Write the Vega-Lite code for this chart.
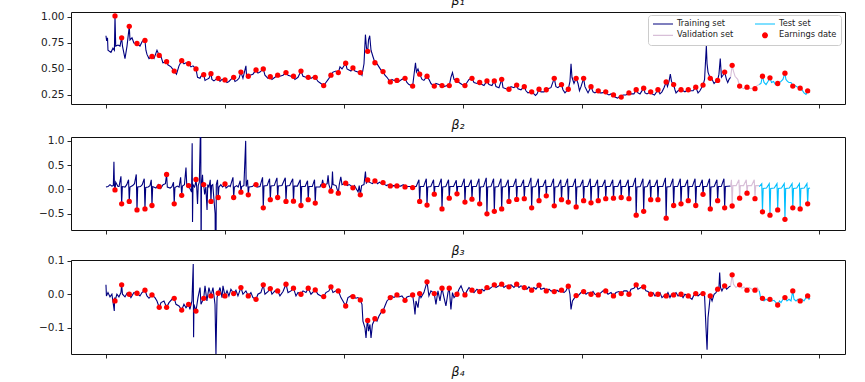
{
"$schema": "https://vega.github.io/schema/vega-lite/v6.json",
"padding": {"left": 20, "top": -6, "right": 10, "bottom": 3},
"config": {
 "view": {"stroke": "#111111", "strokeWidth": 1},
 "axis": {"domain": false, "grid": false, "tickColor": "#111111", "tickWidth": 0.9, "tickSize": 4, "labelFont": "DejaVu Sans", "labelFontSize": 10.5, "labelColor": "#222222", "labelPadding": 3, "labelOverlap": false},
 "axisY": {"minExtent": 50, "maxExtent": 50},
 "title": {"font": "DejaVu Sans", "fontSize": 12.5, "fontStyle": "italic", "fontWeight": "normal", "color": "#111111", "offset": 4}
},
"datasets": {
"earn": [
{"d":76,"b1":1.01,"b2":-0.01,"b3":-0.02},{"d":132,"b1":0.80,"b2":-0.295,"b3":0.028},{"d":196,"b1":0.91,"b2":-0.246,"b3":0.0},{"d":261,"b1":0.745,"b2":-0.42,"b3":0.003},{"d":328,"b1":0.775,"b2":-0.40,"b3":0.012},{"d":387,"b1":0.62,"b2":-0.33,"b3":-0.002},{"d":448,"b1":0.63,"b2":0.06,"b3":-0.039},{"d":510,"b1":0.57,"b2":0.31,"b3":-0.039},{"d":574,"b1":0.48,"b2":-0.295,"b3":-0.012},{"d":637,"b1":0.58,"b2":-0.12,"b3":-0.047},
{"d":695,"b1":0.55,"b2":0.08,"b3":-0.03},{"d":757,"b1":0.50,"b2":0.205,"b3":-0.05},{"d":822,"b1":0.445,"b2":0.10,"b3":-0.012},{"d":883,"b1":0.455,"b2":-0.246,"b3":-0.005},{"d":944,"b1":0.41,"b2":-0.165,"b3":0.003},{"d":1001,"b1":0.395,"b2":0.115,"b3":-0.005},{"d":1074,"b1":0.42,"b2":-0.165,"b3":0.002},{"d":1135,"b1":0.47,"b2":-0.055,"b3":0.02},{"d":1197,"b1":0.43,"b2":-0.11,"b3":-0.005},{"d":1262,"b1":0.49,"b2":0.10,"b3":-0.015},
{"d":1323,"b1":0.50,"b2":-0.377,"b3":0.028},{"d":1382,"b1":0.425,"b2":-0.21,"b3":0.017},{"d":1444,"b1":0.44,"b2":-0.165,"b3":0.01},{"d":1514,"b1":0.465,"b2":-0.246,"b3":0.03},{"d":1577,"b1":0.43,"b2":-0.24,"b3":0.018},{"d":1640,"b1":0.48,"b2":-0.33,"b3":0.0},{"d":1701,"b1":0.42,"b2":-0.21,"b3":0.018},{"d":1760,"b1":0.42,"b2":-0.28,"b3":0.013},{"d":1831,"b1":0.34,"b2":0.08,"b3":-0.007},{"d":1892,"b1":0.44,"b2":-0.035,"b3":0.022},
{"d":1954,"b1":0.465,"b2":-0.076,"b3":0.01},{"d":2016,"b1":0.555,"b2":0.13,"b3":-0.035},{"d":2077,"b1":0.51,"b2":0.033,"b3":-0.007},{"d":2139,"b1":0.465,"b2":-0.11,"b3":-0.017},{"d":2201,"b1":0.67,"b2":0.197,"b3":-0.078},{"d":2262,"b1":0.56,"b2":0.176,"b3":-0.073},{"d":2330,"b1":0.475,"b2":0.143,"b3":-0.05},{"d":2391,"b1":0.375,"b2":0.074,"b3":-0.01},{"d":2447,"b1":0.39,"b2":0.074,"b3":-0.002},{"d":2515,"b1":0.41,"b2":0.053,"b3":-0.018},
{"d":2579,"b1":0.335,"b2":0.04,"b3":-0.002},{"d":2638,"b1":0.45,"b2":-0.246,"b3":0.002},{"d":2700,"b1":0.43,"b2":-0.32,"b3":0.037},{"d":2761,"b1":0.335,"b2":-0.096,"b3":0.002},{"d":2826,"b1":0.34,"b2":-0.40,"b3":0.018},{"d":2887,"b1":0.34,"b2":-0.178,"b3":0.018},{"d":2952,"b1":0.39,"b2":-0.09,"b3":0.0},{"d":3019,"b1":0.34,"b2":-0.26,"b3":-0.002},{"d":3078,"b1":0.41,"b2":-0.2,"b3":0.012},{"d":3143,"b1":0.37,"b2":-0.295,"b3":0.008},
{"d":3204,"b1":0.385,"b2":-0.50,"b3":0.02},{"d":3266,"b1":0.385,"b2":-0.45,"b3":0.028},{"d":3328,"b1":0.40,"b2":-0.40,"b3":0.03},{"d":3389,"b1":0.305,"b2":-0.246,"b3":0.022},{"d":3454,"b1":0.345,"b2":-0.205,"b3":0.03},{"d":3518,"b1":0.33,"b2":-0.19,"b3":0.02},{"d":3580,"b1":0.28,"b2":-0.377,"b3":0.012},{"d":3642,"b1":0.305,"b2":-0.23,"b3":0.027},{"d":3703,"b1":0.30,"b2":-0.13,"b3":0.01},{"d":3770,"b1":0.41,"b2":-0.336,"b3":0.008},
{"d":3831,"b1":0.35,"b2":-0.21,"b3":0.012},{"d":3888,"b1":0.305,"b2":-0.26,"b3":0.024},{"d":3954,"b1":0.41,"b2":-0.36,"b3":-0.004},{"d":4017,"b1":0.41,"b2":-0.23,"b3":0.008},{"d":4079,"b1":0.33,"b2":-0.275,"b3":0.0},{"d":4140,"b1":0.29,"b2":-0.23,"b3":-0.002},{"d":4203,"b1":0.28,"b2":-0.19,"b3":0.01},{"d":4268,"b1":0.25,"b2":-0.18,"b3":-0.005},{"d":4333,"b1":0.23,"b2":-0.165,"b3":0.002},{"d":4398,"b1":0.27,"b2":-0.19,"b3":0.0},
{"d":4459,"b1":0.30,"b2":-0.53,"b3":0.028},{"d":4522,"b1":0.315,"b2":-0.45,"b3":0.022},{"d":4581,"b1":0.28,"b2":-0.21,"b3":0.0},{"d":4642,"b1":0.30,"b2":-0.21,"b3":0.0},{"d":4711,"b1":0.375,"b2":-0.59,"b3":-0.005},{"d":4774,"b1":0.35,"b2":-0.33,"b3":-0.002},{"d":4836,"b1":0.30,"b2":-0.295,"b3":0.0},{"d":4897,"b1":0.30,"b2":-0.23,"b3":-0.005},{"d":4960,"b1":0.325,"b2":-0.33,"b3":0.002},{"d":5021,"b1":0.345,"b2":-0.10,"b3":0.002},
{"d":5082,"b1":0.41,"b2":-0.40,"b3":-0.005},{"d":5144,"b1":0.39,"b2":-0.23,"b3":0.015},{"d":5203,"b1":0.47,"b2":-0.377,"b3":0.025},{"d":5266,"b1":0.535,"b2":-0.34,"b3":0.058},{"d":5329,"b1":0.335,"b2":-0.178,"b3":0.028},{"d":5391,"b1":0.325,"b2":-0.076,"b3":0.012},{"d":5458,"b1":0.31,"b2":-0.19,"b3":0.012},{"d":5521,"b1":0.43,"b2":-0.46,"b3":-0.012},{"d":5584,"b1":0.415,"b2":-0.53,"b3":-0.015},{"d":5649,"b1":0.36,"b2":-0.42,"b3":-0.032},
{"d":5710,"b1":0.46,"b2":-0.615,"b3":-0.01},{"d":5776,"b1":0.335,"b2":-0.377,"b3":0.01},{"d":5838,"b1":0.315,"b2":-0.40,"b3":-0.02},{"d":5901,"b1":0.29,"b2":-0.295,"b3":-0.005}
],
"p1": [
{"d":0,"v":0.82,"s":"T"},{"d":6,"v":0.77,"s":"T"},{"d":13,"v":0.80,"s":"T"},{"d":17,"v":0.68,"s":"T"},{"d":42,"v":0.66,"s":"T"},{"d":59,"v":0.70,"s":"T"},{"d":71,"v":0.68,"s":"T"},{"d":76,"v":1.01,"s":"T"},{"d":82,"v":0.72,"s":"T"},{"d":101,"v":0.73,"s":"T"},
{"d":118,"v":0.72,"s":"T"},{"d":132,"v":0.80,"s":"T"},{"d":139,"v":0.72,"s":"T"},{"d":160,"v":0.60,"s":"T"},{"d":177,"v":0.72,"s":"T"},{"d":196,"v":0.91,"s":"T"},{"d":202,"v":0.78,"s":"T"},{"d":219,"v":0.80,"s":"T"},{"d":235,"v":0.75,"s":"T"},{"d":261,"v":0.745,"s":"T"},
{"d":286,"v":0.72,"s":"T"},{"d":307,"v":0.77,"s":"T"},{"d":328,"v":0.775,"s":"T"},{"d":336,"v":0.68,"s":"T"},{"d":345,"v":0.64,"s":"T"},{"d":362,"v":0.60,"s":"T"},{"d":387,"v":0.62,"s":"T"},{"d":404,"v":0.60,"s":"T"},{"d":429,"v":0.68,"s":"T"},{"d":448,"v":0.63,"s":"T"},
{"d":463,"v":0.62,"s":"T"},{"d":479,"v":0.56,"s":"T"},{"d":510,"v":0.57,"s":"T"},{"d":521,"v":0.54,"s":"T"},{"d":547,"v":0.52,"s":"T"},{"d":574,"v":0.48,"s":"T"},{"d":593,"v":0.45,"s":"T"},{"d":614,"v":0.53,"s":"T"},{"d":637,"v":0.58,"s":"T"},{"d":656,"v":0.55,"s":"T"},
{"d":673,"v":0.56,"s":"T"},{"d":695,"v":0.55,"s":"T"},{"d":715,"v":0.52,"s":"T"},{"d":732,"v":0.53,"s":"T"},{"d":757,"v":0.50,"s":"T"},{"d":770,"v":0.42,"s":"T"},{"d":791,"v":0.41,"s":"T"},{"d":799,"v":0.43,"s":"T"},{"d":822,"v":0.445,"s":"T"},{"d":833,"v":0.39,"s":"T"},
{"d":849,"v":0.40,"s":"T"},{"d":866,"v":0.41,"s":"T"},{"d":883,"v":0.455,"s":"T"},{"d":891,"v":0.40,"s":"T"},{"d":908,"v":0.385,"s":"T"},{"d":925,"v":0.40,"s":"T"},{"d":944,"v":0.41,"s":"T"},{"d":959,"v":0.38,"s":"T"},{"d":976,"v":0.40,"s":"T"},{"d":1001,"v":0.395,"s":"T"},
{"d":1018,"v":0.37,"s":"T"},{"d":1034,"v":0.38,"s":"T"},{"d":1051,"v":0.40,"s":"T"},{"d":1074,"v":0.42,"s":"T"},{"d":1085,"v":0.38,"s":"T"},{"d":1102,"v":0.39,"s":"T"},{"d":1119,"v":0.41,"s":"T"},{"d":1135,"v":0.47,"s":"T"},{"d":1152,"v":0.41,"s":"T"},{"d":1177,"v":0.53,"s":"T"},
{"d":1182,"v":0.44,"s":"T"},{"d":1197,"v":0.43,"s":"T"},{"d":1211,"v":0.44,"s":"T"},{"d":1236,"v":0.45,"s":"T"},{"d":1262,"v":0.49,"s":"T"},{"d":1278,"v":0.46,"s":"T"},{"d":1295,"v":0.47,"s":"T"},{"d":1323,"v":0.50,"s":"T"},{"d":1337,"v":0.44,"s":"T"},{"d":1362,"v":0.41,"s":"T"},
{"d":1382,"v":0.425,"s":"T"},{"d":1396,"v":0.40,"s":"T"},{"d":1421,"v":0.42,"s":"T"},{"d":1444,"v":0.44,"s":"T"},{"d":1463,"v":0.43,"s":"T"},{"d":1489,"v":0.44,"s":"T"},{"d":1514,"v":0.465,"s":"T"},{"d":1531,"v":0.44,"s":"T"},{"d":1556,"v":0.43,"s":"T"},{"d":1577,"v":0.43,"s":"T"},
{"d":1589,"v":0.40,"s":"T"},{"d":1615,"v":0.42,"s":"T"},{"d":1640,"v":0.48,"s":"T"},{"d":1657,"v":0.43,"s":"T"},{"d":1682,"v":0.42,"s":"T"},{"d":1701,"v":0.42,"s":"T"},{"d":1724,"v":0.41,"s":"T"},{"d":1741,"v":0.42,"s":"T"},{"d":1760,"v":0.42,"s":"T"},{"d":1783,"v":0.38,"s":"T"},
{"d":1808,"v":0.36,"s":"T"},{"d":1831,"v":0.34,"s":"T"},{"d":1850,"v":0.37,"s":"T"},{"d":1875,"v":0.41,"s":"T"},{"d":1892,"v":0.44,"s":"T"},{"d":1909,"v":0.47,"s":"T"},{"d":1934,"v":0.48,"s":"T"},{"d":1954,"v":0.465,"s":"T"},{"d":1968,"v":0.52,"s":"T"},{"d":1985,"v":0.50,"s":"T"},
{"d":2016,"v":0.555,"s":"T"},{"d":2027,"v":0.50,"s":"T"},{"d":2044,"v":0.49,"s":"T"},{"d":2060,"v":0.48,"s":"T"},{"d":2077,"v":0.51,"s":"T"},{"d":2094,"v":0.48,"s":"T"},{"d":2119,"v":0.47,"s":"T"},{"d":2139,"v":0.465,"s":"T"},{"d":2153,"v":0.44,"s":"T"},{"d":2170,"v":0.55,"s":"T"},
{"d":2182,"v":0.83,"s":"T"},{"d":2191,"v":0.70,"s":"T"},{"d":2201,"v":0.67,"s":"T"},{"d":2208,"v":0.78,"s":"T"},{"d":2218,"v":0.82,"s":"T"},{"d":2229,"v":0.68,"s":"T"},{"d":2245,"v":0.62,"s":"T"},{"d":2262,"v":0.56,"s":"T"},{"d":2279,"v":0.55,"s":"T"},{"d":2296,"v":0.52,"s":"T"},
{"d":2313,"v":0.49,"s":"T"},{"d":2330,"v":0.475,"s":"T"},{"d":2346,"v":0.44,"s":"T"},{"d":2363,"v":0.42,"s":"T"},{"d":2391,"v":0.375,"s":"T"},{"d":2405,"v":0.40,"s":"T"},{"d":2422,"v":0.39,"s":"T"},{"d":2447,"v":0.39,"s":"T"},{"d":2464,"v":0.38,"s":"T"},{"d":2489,"v":0.40,"s":"T"},
{"d":2515,"v":0.41,"s":"T"},{"d":2531,"v":0.37,"s":"T"},{"d":2548,"v":0.35,"s":"T"},{"d":2579,"v":0.335,"s":"T"},{"d":2590,"v":0.44,"s":"T"},{"d":2603,"v":0.56,"s":"T"},{"d":2611,"v":0.47,"s":"T"},{"d":2624,"v":0.50,"s":"T"},{"d":2638,"v":0.45,"s":"T"},{"d":2658,"v":0.40,"s":"T"},
{"d":2674,"v":0.39,"s":"T"},{"d":2700,"v":0.43,"s":"T"},{"d":2716,"v":0.40,"s":"T"},{"d":2733,"v":0.36,"s":"T"},{"d":2761,"v":0.335,"s":"T"},{"d":2775,"v":0.36,"s":"T"},{"d":2801,"v":0.35,"s":"T"},{"d":2826,"v":0.34,"s":"T"},{"d":2843,"v":0.33,"s":"T"},{"d":2868,"v":0.34,"s":"T"},
{"d":2887,"v":0.34,"s":"T"},{"d":2901,"v":0.42,"s":"T"},{"d":2914,"v":0.465,"s":"T"},{"d":2927,"v":0.40,"s":"T"},{"d":2952,"v":0.39,"s":"T"},{"d":2969,"v":0.37,"s":"T"},{"d":2994,"v":0.35,"s":"T"},{"d":3019,"v":0.34,"s":"T"},{"d":3036,"v":0.37,"s":"T"},{"d":3053,"v":0.40,"s":"T"},
{"d":3078,"v":0.41,"s":"T"},{"d":3095,"v":0.37,"s":"T"},{"d":3120,"v":0.36,"s":"T"},{"d":3143,"v":0.37,"s":"T"},{"d":3162,"v":0.35,"s":"T"},{"d":3179,"v":0.34,"s":"T"},{"d":3204,"v":0.385,"s":"T"},{"d":3221,"v":0.35,"s":"T"},{"d":3246,"v":0.34,"s":"T"},{"d":3266,"v":0.385,"s":"T"},
{"d":3280,"v":0.33,"s":"T"},{"d":3305,"v":0.32,"s":"T"},{"d":3328,"v":0.40,"s":"T"},{"d":3339,"v":0.32,"s":"T"},{"d":3364,"v":0.31,"s":"T"},{"d":3389,"v":0.305,"s":"T"},{"d":3406,"v":0.33,"s":"T"},{"d":3431,"v":0.32,"s":"T"},{"d":3454,"v":0.345,"s":"T"},{"d":3465,"v":0.31,"s":"T"},
{"d":3490,"v":0.30,"s":"T"},{"d":3518,"v":0.33,"s":"T"},{"d":3532,"v":0.29,"s":"T"},{"d":3549,"v":0.27,"s":"T"},{"d":3580,"v":0.28,"s":"T"},{"d":3599,"v":0.26,"s":"T"},{"d":3612,"v":0.245,"s":"T"},{"d":3625,"v":0.26,"s":"T"},{"d":3642,"v":0.305,"s":"T"},{"d":3658,"v":0.28,"s":"T"},
{"d":3684,"v":0.28,"s":"T"},{"d":3703,"v":0.30,"s":"T"},{"d":3717,"v":0.31,"s":"T"},{"d":3742,"v":0.32,"s":"T"},{"d":3770,"v":0.41,"s":"T"},{"d":3784,"v":0.33,"s":"T"},{"d":3801,"v":0.32,"s":"T"},{"d":3831,"v":0.35,"s":"T"},{"d":3843,"v":0.30,"s":"T"},{"d":3860,"v":0.27,"s":"T"},
{"d":3888,"v":0.305,"s":"T"},{"d":3902,"v":0.38,"s":"T"},{"d":3911,"v":0.55,"s":"T"},{"d":3919,"v":0.42,"s":"T"},{"d":3936,"v":0.36,"s":"T"},{"d":3954,"v":0.41,"s":"T"},{"d":3970,"v":0.36,"s":"T"},{"d":3982,"v":0.29,"s":"T"},{"d":3995,"v":0.33,"s":"T"},{"d":4017,"v":0.41,"s":"T"},
{"d":4028,"v":0.33,"s":"T"},{"d":4045,"v":0.29,"s":"T"},{"d":4054,"v":0.27,"s":"T"},{"d":4079,"v":0.33,"s":"T"},{"d":4096,"v":0.28,"s":"T"},{"d":4112,"v":0.27,"s":"T"},{"d":4140,"v":0.29,"s":"T"},{"d":4155,"v":0.27,"s":"T"},{"d":4171,"v":0.27,"s":"T"},{"d":4203,"v":0.28,"s":"T"},
{"d":4213,"v":0.26,"s":"T"},{"d":4230,"v":0.25,"s":"T"},{"d":4247,"v":0.26,"s":"T"},{"d":4268,"v":0.25,"s":"T"},{"d":4281,"v":0.23,"s":"T"},{"d":4302,"v":0.22,"s":"T"},{"d":4314,"v":0.23,"s":"T"},{"d":4333,"v":0.23,"s":"T"},{"d":4348,"v":0.25,"s":"T"},{"d":4373,"v":0.25,"s":"T"},
{"d":4398,"v":0.27,"s":"T"},{"d":4415,"v":0.26,"s":"T"},{"d":4440,"v":0.26,"s":"T"},{"d":4459,"v":0.30,"s":"T"},{"d":4474,"v":0.27,"s":"T"},{"d":4491,"v":0.26,"s":"T"},{"d":4522,"v":0.315,"s":"T"},{"d":4533,"v":0.27,"s":"T"},{"d":4550,"v":0.26,"s":"T"},{"d":4581,"v":0.28,"s":"T"},
{"d":4592,"v":0.26,"s":"T"},{"d":4613,"v":0.25,"s":"T"},{"d":4642,"v":0.30,"s":"T"},{"d":4659,"v":0.26,"s":"T"},{"d":4676,"v":0.28,"s":"T"},{"d":4693,"v":0.32,"s":"T"},{"d":4711,"v":0.375,"s":"T"},{"d":4722,"v":0.33,"s":"T"},{"d":4735,"v":0.38,"s":"T"},{"d":4746,"v":0.45,"s":"T"},
{"d":4756,"v":0.38,"s":"T"},{"d":4774,"v":0.35,"s":"T"},{"d":4785,"v":0.30,"s":"T"},{"d":4794,"v":0.27,"s":"T"},{"d":4811,"v":0.29,"s":"T"},{"d":4836,"v":0.30,"s":"T"},{"d":4853,"v":0.29,"s":"T"},{"d":4869,"v":0.28,"s":"T"},{"d":4897,"v":0.30,"s":"T"},{"d":4911,"v":0.29,"s":"T"},
{"d":4937,"v":0.29,"s":"T"},{"d":4960,"v":0.325,"s":"T"},{"d":4979,"v":0.27,"s":"T"},{"d":4995,"v":0.29,"s":"T"},{"d":5021,"v":0.345,"s":"T"},{"d":5034,"v":0.40,"s":"T"},{"d":5049,"v":0.72,"s":"T"},{"d":5055,"v":0.55,"s":"T"},{"d":5063,"v":0.47,"s":"T"},{"d":5082,"v":0.41,"s":"T"},
{"d":5097,"v":0.40,"s":"T"},{"d":5114,"v":0.36,"s":"T"},{"d":5130,"v":0.38,"s":"T"},{"d":5144,"v":0.39,"s":"T"},{"d":5155,"v":0.45,"s":"T"},{"d":5166,"v":0.60,"s":"T"},{"d":5176,"v":0.42,"s":"T"},{"d":5189,"v":0.44,"s":"T"},{"d":5203,"v":0.47,"s":"T"},{"d":5218,"v":0.40,"s":"T"},
{"d":5229,"v":0.37,"s":"T"},{"d":5240,"v":0.40,"s":"T"},{"d":5253,"v":0.42,"s":"T"},
{"d":5253,"v":0.42,"s":"V"},{"d":5266,"v":0.535,"s":"V"},{"d":5277,"v":0.48,"s":"V"},{"d":5290,"v":0.43,"s":"V"},{"d":5313,"v":0.40,"s":"V"},{"d":5329,"v":0.335,"s":"V"},{"d":5348,"v":0.32,"s":"V"},{"d":5361,"v":0.31,"s":"V"},{"d":5391,"v":0.325,"s":"V"},{"d":5407,"v":0.31,"s":"V"},{"d":5424,"v":0.315,"s":"V"},{"d":5441,"v":0.31,"s":"V"},{"d":5458,"v":0.31,"s":"V"},{"d":5475,"v":0.34,"s":"V"},{"d":5494,"v":0.35,"s":"V"},
{"d":5494,"v":0.35,"s":"X"},{"d":5508,"v":0.36,"s":"X"},{"d":5521,"v":0.43,"s":"X"},{"d":5534,"v":0.37,"s":"X"},{"d":5551,"v":0.35,"s":"X"},{"d":5567,"v":0.38,"s":"X"},{"d":5584,"v":0.415,"s":"X"},{"d":5597,"v":0.37,"s":"X"},{"d":5614,"v":0.38,"s":"X"},{"d":5630,"v":0.35,"s":"X"},{"d":5649,"v":0.36,"s":"X"},{"d":5664,"v":0.37,"s":"X"},{"d":5677,"v":0.38,"s":"X"},{"d":5693,"v":0.40,"s":"X"},{"d":5710,"v":0.46,"s":"X"},
{"d":5718,"v":0.40,"s":"X"},{"d":5731,"v":0.38,"s":"X"},{"d":5744,"v":0.37,"s":"X"},{"d":5761,"v":0.37,"s":"X"},{"d":5776,"v":0.335,"s":"X"},{"d":5794,"v":0.34,"s":"X"},{"d":5811,"v":0.33,"s":"X"},{"d":5838,"v":0.315,"s":"X"},{"d":5853,"v":0.30,"s":"X"},{"d":5870,"v":0.27,"s":"X"},{"d":5887,"v":0.255,"s":"X"},{"d":5901,"v":0.29,"s":"X"},{"d":5912,"v":0.275,"s":"X"},{"d":5921,"v":0.28,"s":"X"}
],
"p2": [
{"d":0,"v":0.05,"s":"T"},{"d":17,"v":0.06,"s":"T"},{"d":34,"v":0.1,"s":"T"},{"d":50,"v":0.07,"s":"T"},{"d":62,"v":0.08,"s":"T"},{"d":67,"v":0.57,"s":"T"},{"d":71,"v":0.1,"s":"T"},{"d":76,"v":-0.01,"s":"T"},{"d":82,"v":0.15,"s":"T"},{"d":101,"v":0.06,"s":"T"},
{"d":110,"v":0.06,"s":"T"},{"d":126,"v":0.27,"s":"T"},{"d":132,"v":-0.295,"s":"T"},{"d":138,"v":0.06,"s":"T"},{"d":160,"v":0.05,"s":"T"},
{"d":175,"v":0.1,"s":"T"},{"d":190,"v":0.2,"s":"T"},{"d":196,"v":-0.246,"s":"T"},{"d":202,"v":0.05,"s":"T"},{"d":225,"v":0.08,"s":"T"},
{"d":240,"v":0.12,"s":"T"},{"d":255,"v":0.31,"s":"T"},{"d":261,"v":-0.42,"s":"T"},{"d":267,"v":0.05,"s":"T"},{"d":290,"v":0.06,"s":"T"},
{"d":305,"v":0.1,"s":"T"},{"d":322,"v":0.22,"s":"T"},{"d":328,"v":-0.40,"s":"T"},{"d":334,"v":0.04,"s":"T"},{"d":355,"v":0.05,"s":"T"},
{"d":370,"v":0.08,"s":"T"},{"d":381,"v":0.2,"s":"T"},{"d":387,"v":-0.33,"s":"T"},{"d":393,"v":0.06,"s":"T"},{"d":420,"v":0.03,"s":"T"},
{"d":440,"v":0.1,"s":"T"},{"d":448,"v":0.06,"s":"T"},{"d":460,"v":0.02,"s":"T"},{"d":480,"v":0.1,"s":"T"},
{"d":500,"v":0.12,"s":"T"},{"d":510,"v":0.31,"s":"T"},{"d":516,"v":0.05,"s":"T"},{"d":540,"v":0.03,"s":"T"},
{"d":555,"v":0.06,"s":"T"},{"d":568,"v":0.15,"s":"T"},{"d":574,"v":-0.295,"s":"T"},{"d":580,"v":0.04,"s":"T"},{"d":600,"v":0.07,"s":"T"},
{"d":615,"v":0.05,"s":"T"},{"d":628,"v":0.25,"s":"T"},{"d":637,"v":-0.12,"s":"T"},{"d":643,"v":0.07,"s":"T"},{"d":660,"v":0.1,"s":"T"},{"d":673,"v":0.45,"s":"T"},{"d":680,"v":0.05,"s":"T"},
{"d":688,"v":0.1,"s":"T"},{"d":695,"v":0.08,"s":"T"},{"d":700,"v":0.05,"s":"T"},{"d":720,"v":-0.05,"s":"T"},{"d":725,"v":0.95,"s":"T"},{"d":728,"v":-0.67,"s":"T"},{"d":732,"v":0.1,"s":"T"},{"d":745,"v":0.05,"s":"T"},
{"d":751,"v":0.1,"s":"T"},{"d":757,"v":0.205,"s":"T"},{"d":763,"v":0.05,"s":"T"},{"d":770,"v":-0.3,"s":"T"},{"d":776,"v":0.08,"s":"T"},{"d":785,"v":0.15,"s":"T"},{"d":797,"v":1.5,"s":"T"},{"d":800,"v":-1.5,"s":"T"},{"d":803,"v":0.05,"s":"T"},{"d":812,"v":0.3,"s":"T"},
{"d":817,"v":0.05,"s":"T"},{"d":822,"v":0.1,"s":"T"},{"d":830,"v":-0.1,"s":"T"},{"d":840,"v":0.05,"s":"T"},{"d":850,"v":-0.42,"s":"T"},{"d":856,"v":0.1,"s":"T"},{"d":866,"v":0.05,"s":"T"},
{"d":877,"v":0.2,"s":"T"},{"d":883,"v":-0.246,"s":"T"},{"d":888,"v":0.08,"s":"T"},{"d":898,"v":0.1,"s":"T"},{"d":918,"v":-0.5,"s":"T"},{"d":920,"v":-1.5,"s":"T"},{"d":925,"v":-1.5,"s":"T"},{"d":928,"v":0.1,"s":"T"},
{"d":938,"v":0.2,"s":"T"},{"d":944,"v":-0.165,"s":"T"},{"d":950,"v":0.05,"s":"T"},{"d":966,"v":0.1,"s":"T"},{"d":980,"v":0.05,"s":"T"},
{"d":995,"v":0.08,"s":"T"},{"d":1001,"v":0.115,"s":"T"},{"d":1010,"v":0.03,"s":"T"},{"d":1035,"v":0.08,"s":"T"},
{"d":1045,"v":0.06,"s":"T"},{"d":1068,"v":0.25,"s":"T"},{"d":1074,"v":-0.165,"s":"T"},{"d":1080,"v":0.05,"s":"T"},{"d":1100,"v":0.08,"s":"T"},
{"d":1112,"v":0.05,"s":"T"},{"d":1129,"v":0.18,"s":"T"},{"d":1135,"v":-0.055,"s":"T"},{"d":1141,"v":0.06,"s":"T"},{"d":1160,"v":0.08,"s":"T"},{"d":1175,"v":1.0,"s":"T"},{"d":1179,"v":0.06,"s":"T"},
{"d":1191,"v":0.2,"s":"T"},{"d":1197,"v":-0.11,"s":"T"},{"d":1203,"v":0.05,"s":"T"},{"d":1230,"v":0.06,"s":"T"},
{"d":1250,"v":0.1,"s":"T"},{"d":1262,"v":0.10,"s":"T"},{"d":1270,"v":0.05,"s":"T"},{"d":1295,"v":0.06,"s":"T"},
{"d":1317,"v":0.25,"s":"T"},{"d":1323,"v":-0.377,"s":"T"},{"d":1329,"v":0.07,"s":"T"},{"d":1355,"v":0.08,"s":"T"},
{"d":1376,"v":0.22,"s":"T"},{"d":1382,"v":-0.21,"s":"T"},{"d":1388,"v":0.07,"s":"T"},{"d":1415,"v":0.08,"s":"T"},
{"d":1438,"v":0.24,"s":"T"},{"d":1444,"v":-0.165,"s":"T"},{"d":1450,"v":0.07,"s":"T"},{"d":1480,"v":0.08,"s":"T"},
{"d":1508,"v":0.24,"s":"T"},{"d":1514,"v":-0.246,"s":"T"},{"d":1520,"v":0.07,"s":"T"},{"d":1545,"v":0.08,"s":"T"},
{"d":1571,"v":0.22,"s":"T"},{"d":1577,"v":-0.24,"s":"T"},{"d":1583,"v":0.07,"s":"T"},{"d":1610,"v":0.07,"s":"T"},
{"d":1634,"v":0.2,"s":"T"},{"d":1640,"v":-0.33,"s":"T"},{"d":1646,"v":0.06,"s":"T"},{"d":1675,"v":0.06,"s":"T"},
{"d":1695,"v":0.18,"s":"T"},{"d":1701,"v":-0.21,"s":"T"},{"d":1707,"v":0.06,"s":"T"},{"d":1735,"v":0.06,"s":"T"},
{"d":1754,"v":0.2,"s":"T"},{"d":1760,"v":-0.28,"s":"T"},{"d":1766,"v":0.05,"s":"T"},{"d":1800,"v":0.05,"s":"T"},{"d":1808,"v":0.1,"s":"T"},
{"d":1815,"v":0.1,"s":"T"},{"d":1822,"v":0.2,"s":"T"},{"d":1831,"v":0.08,"s":"T"},{"d":1845,"v":0.1,"s":"T"},{"d":1860,"v":0.12,"s":"T"},{"d":1868,"v":0.29,"s":"T"},{"d":1875,"v":0.1,"s":"T"},{"d":1892,"v":-0.035,"s":"T"},{"d":1900,"v":0.1,"s":"T"},{"d":1905,"v":0.37,"s":"T"},
{"d":1910,"v":0.1,"s":"T"},{"d":1935,"v":0.08,"s":"T"},{"d":1954,"v":-0.076,"s":"T"},{"d":1962,"v":0.1,"s":"T"},{"d":1975,"v":0.26,"s":"T"},{"d":1985,"v":0.1,"s":"T"},{"d":2000,"v":0.12,"s":"T"},{"d":2016,"v":0.13,"s":"T"},{"d":2030,"v":0.08,"s":"T"},{"d":2045,"v":0.1,"s":"T"},
{"d":2060,"v":0.08,"s":"T"},{"d":2077,"v":0.033,"s":"T"},{"d":2090,"v":0.08,"s":"T"},{"d":2120,"v":-0.05,"s":"T"},{"d":2130,"v":0.08,"s":"T"},{"d":2139,"v":-0.11,"s":"T"},{"d":2150,"v":0.08,"s":"T"},{"d":2170,"v":0.1,"s":"T"},{"d":2182,"v":0.37,"s":"T"},{"d":2190,"v":0.12,"s":"T"},
{"d":2201,"v":0.197,"s":"T"},{"d":2215,"v":0.15,"s":"T"},{"d":2240,"v":0.12,"s":"T"},{"d":2262,"v":0.176,"s":"T"},{"d":2285,"v":0.12,"s":"T"},{"d":2300,"v":0.15,"s":"T"},{"d":2315,"v":0.12,"s":"T"},{"d":2330,"v":0.143,"s":"T"},{"d":2345,"v":0.1,"s":"T"},{"d":2360,"v":0.08,"s":"T"},
{"d":2375,"v":0.1,"s":"T"},{"d":2391,"v":0.074,"s":"T"},{"d":2420,"v":0.08,"s":"T"},{"d":2447,"v":0.074,"s":"T"},{"d":2480,"v":0.07,"s":"T"},{"d":2500,"v":0.1,"s":"T"},{"d":2515,"v":0.053,"s":"T"},{"d":2545,"v":0.06,"s":"T"},{"d":2560,"v":0.06,"s":"T"},{"d":2579,"v":0.04,"s":"T"},{"d":2600,"v":0.06,"s":"T"},
{"d":2609,"v":0.06,"s":"T"},{"d":2632,"v":0.2,"s":"T"},{"d":2638,"v":-0.246,"s":"T"},{"d":2644,"v":0.06,"s":"T"},
{"d":2671,"v":0.06,"s":"T"},{"d":2694,"v":0.22,"s":"T"},{"d":2700,"v":-0.32,"s":"T"},{"d":2706,"v":0.05,"s":"T"},
{"d":2732,"v":0.06,"s":"T"},{"d":2755,"v":0.2,"s":"T"},{"d":2761,"v":-0.096,"s":"T"},{"d":2767,"v":0.06,"s":"T"},
{"d":2797,"v":0.06,"s":"T"},{"d":2820,"v":0.22,"s":"T"},{"d":2826,"v":-0.40,"s":"T"},{"d":2832,"v":0.05,"s":"T"},
{"d":2858,"v":0.06,"s":"T"},{"d":2881,"v":0.2,"s":"T"},{"d":2887,"v":-0.178,"s":"T"},{"d":2893,"v":0.06,"s":"T"},
{"d":2923,"v":0.06,"s":"T"},{"d":2946,"v":0.19,"s":"T"},{"d":2952,"v":-0.09,"s":"T"},{"d":2958,"v":0.06,"s":"T"},
{"d":2990,"v":0.06,"s":"T"},{"d":3013,"v":0.22,"s":"T"},{"d":3019,"v":-0.26,"s":"T"},{"d":3025,"v":0.06,"s":"T"},
{"d":3049,"v":0.06,"s":"T"},{"d":3072,"v":0.2,"s":"T"},{"d":3078,"v":-0.2,"s":"T"},{"d":3084,"v":0.06,"s":"T"},
{"d":3114,"v":0.06,"s":"T"},{"d":3137,"v":0.22,"s":"T"},{"d":3143,"v":-0.295,"s":"T"},{"d":3149,"v":0.05,"s":"T"},
{"d":3175,"v":0.06,"s":"T"},{"d":3198,"v":0.24,"s":"T"},{"d":3204,"v":-0.50,"s":"T"},{"d":3210,"v":0.05,"s":"T"},
{"d":3237,"v":0.06,"s":"T"},{"d":3260,"v":0.22,"s":"T"},{"d":3266,"v":-0.45,"s":"T"},{"d":3272,"v":0.05,"s":"T"},
{"d":3299,"v":0.06,"s":"T"},{"d":3322,"v":0.22,"s":"T"},{"d":3328,"v":-0.40,"s":"T"},{"d":3334,"v":0.05,"s":"T"},
{"d":3360,"v":0.06,"s":"T"},{"d":3383,"v":0.2,"s":"T"},{"d":3389,"v":-0.246,"s":"T"},{"d":3395,"v":0.06,"s":"T"},
{"d":3425,"v":0.06,"s":"T"},{"d":3448,"v":0.22,"s":"T"},{"d":3454,"v":-0.205,"s":"T"},{"d":3460,"v":0.06,"s":"T"},
{"d":3489,"v":0.06,"s":"T"},{"d":3512,"v":0.2,"s":"T"},{"d":3518,"v":-0.19,"s":"T"},{"d":3524,"v":0.06,"s":"T"},
{"d":3551,"v":0.06,"s":"T"},{"d":3574,"v":0.24,"s":"T"},{"d":3580,"v":-0.377,"s":"T"},{"d":3586,"v":0.05,"s":"T"},
{"d":3613,"v":0.06,"s":"T"},{"d":3636,"v":0.22,"s":"T"},{"d":3642,"v":-0.23,"s":"T"},{"d":3648,"v":0.06,"s":"T"},
{"d":3674,"v":0.06,"s":"T"},{"d":3697,"v":0.2,"s":"T"},{"d":3703,"v":-0.13,"s":"T"},{"d":3709,"v":0.06,"s":"T"},
{"d":3741,"v":0.06,"s":"T"},{"d":3764,"v":0.22,"s":"T"},{"d":3770,"v":-0.336,"s":"T"},{"d":3776,"v":0.05,"s":"T"},
{"d":3802,"v":0.06,"s":"T"},{"d":3825,"v":0.2,"s":"T"},{"d":3831,"v":-0.21,"s":"T"},{"d":3837,"v":0.06,"s":"T"},
{"d":3859,"v":0.06,"s":"T"},{"d":3882,"v":0.22,"s":"T"},{"d":3888,"v":-0.26,"s":"T"},{"d":3894,"v":0.06,"s":"T"},
{"d":3925,"v":0.06,"s":"T"},{"d":3948,"v":0.22,"s":"T"},{"d":3954,"v":-0.36,"s":"T"},{"d":3960,"v":0.05,"s":"T"},
{"d":3988,"v":0.06,"s":"T"},{"d":4011,"v":0.2,"s":"T"},{"d":4017,"v":-0.23,"s":"T"},{"d":4023,"v":0.06,"s":"T"},
{"d":4050,"v":0.06,"s":"T"},{"d":4073,"v":0.22,"s":"T"},{"d":4079,"v":-0.275,"s":"T"},{"d":4085,"v":0.06,"s":"T"},
{"d":4111,"v":0.06,"s":"T"},{"d":4134,"v":0.2,"s":"T"},{"d":4140,"v":-0.23,"s":"T"},{"d":4146,"v":0.06,"s":"T"},
{"d":4174,"v":0.06,"s":"T"},{"d":4197,"v":0.2,"s":"T"},{"d":4203,"v":-0.19,"s":"T"},{"d":4209,"v":0.06,"s":"T"},
{"d":4239,"v":0.06,"s":"T"},{"d":4262,"v":0.2,"s":"T"},{"d":4268,"v":-0.18,"s":"T"},{"d":4274,"v":0.06,"s":"T"},
{"d":4304,"v":0.06,"s":"T"},{"d":4327,"v":0.2,"s":"T"},{"d":4333,"v":-0.165,"s":"T"},{"d":4339,"v":0.06,"s":"T"},
{"d":4369,"v":0.06,"s":"T"},{"d":4392,"v":0.2,"s":"T"},{"d":4398,"v":-0.19,"s":"T"},{"d":4404,"v":0.06,"s":"T"},
{"d":4430,"v":0.06,"s":"T"},{"d":4453,"v":0.24,"s":"T"},{"d":4459,"v":-0.53,"s":"T"},{"d":4465,"v":0.05,"s":"T"},
{"d":4493,"v":0.06,"s":"T"},{"d":4516,"v":0.22,"s":"T"},{"d":4522,"v":-0.45,"s":"T"},{"d":4528,"v":0.05,"s":"T"},
{"d":4552,"v":0.06,"s":"T"},{"d":4575,"v":0.2,"s":"T"},{"d":4581,"v":-0.21,"s":"T"},{"d":4587,"v":0.06,"s":"T"},
{"d":4613,"v":0.06,"s":"T"},{"d":4636,"v":0.2,"s":"T"},{"d":4642,"v":-0.21,"s":"T"},{"d":4648,"v":0.06,"s":"T"},
{"d":4682,"v":0.06,"s":"T"},{"d":4705,"v":0.24,"s":"T"},{"d":4711,"v":-0.59,"s":"T"},{"d":4717,"v":0.05,"s":"T"},
{"d":4745,"v":0.06,"s":"T"},{"d":4768,"v":0.22,"s":"T"},{"d":4774,"v":-0.33,"s":"T"},{"d":4780,"v":0.06,"s":"T"},
{"d":4807,"v":0.06,"s":"T"},{"d":4830,"v":0.22,"s":"T"},{"d":4836,"v":-0.295,"s":"T"},{"d":4842,"v":0.06,"s":"T"},
{"d":4868,"v":0.06,"s":"T"},{"d":4891,"v":0.2,"s":"T"},{"d":4897,"v":-0.23,"s":"T"},{"d":4903,"v":0.06,"s":"T"},
{"d":4931,"v":0.06,"s":"T"},{"d":4954,"v":0.22,"s":"T"},{"d":4960,"v":-0.33,"s":"T"},{"d":4966,"v":0.06,"s":"T"},
{"d":4992,"v":0.06,"s":"T"},{"d":5015,"v":0.2,"s":"T"},{"d":5021,"v":-0.10,"s":"T"},{"d":5027,"v":0.06,"s":"T"},
{"d":5053,"v":0.06,"s":"T"},{"d":5076,"v":0.22,"s":"T"},{"d":5082,"v":-0.40,"s":"T"},{"d":5088,"v":0.05,"s":"T"},
{"d":5115,"v":0.06,"s":"T"},{"d":5138,"v":0.2,"s":"T"},{"d":5144,"v":-0.23,"s":"T"},{"d":5150,"v":0.06,"s":"T"},
{"d":5174,"v":0.06,"s":"T"},{"d":5197,"v":0.22,"s":"T"},{"d":5203,"v":-0.377,"s":"T"},{"d":5209,"v":0.06,"s":"T"},{"d":5253,"v":0.07,"s":"T"},
{"d":5253,"v":0.07,"s":"V"},{"d":5260,"v":0.2,"s":"V"},{"d":5266,"v":-0.34,"s":"V"},{"d":5272,"v":0.08,"s":"V"},{"d":5300,"v":0.08,"s":"V"},{"d":5323,"v":0.2,"s":"V"},{"d":5329,"v":-0.178,"s":"V"},{"d":5335,"v":0.08,"s":"V"},{"d":5362,"v":0.08,"s":"V"},{"d":5385,"v":0.2,"s":"V"},{"d":5391,"v":-0.076,"s":"V"},{"d":5397,"v":0.08,"s":"V"},{"d":5429,"v":0.08,"s":"V"},{"d":5452,"v":0.2,"s":"V"},{"d":5458,"v":-0.19,"s":"V"},{"d":5464,"v":0.08,"s":"V"},{"d":5494,"v":0.08,"s":"V"},
{"d":5494,"v":0.06,"s":"X"},{"d":5515,"v":0.12,"s":"X"},{"d":5521,"v":-0.46,"s":"X"},{"d":5527,"v":0.02,"s":"X"},{"d":5555,"v":0.03,"s":"X"},{"d":5578,"v":0.12,"s":"X"},{"d":5584,"v":-0.53,"s":"X"},{"d":5590,"v":0.02,"s":"X"},{"d":5620,"v":0.03,"s":"X"},{"d":5643,"v":0.12,"s":"X"},{"d":5649,"v":-0.42,"s":"X"},{"d":5655,"v":0.02,"s":"X"},
{"d":5681,"v":0.03,"s":"X"},{"d":5704,"v":0.12,"s":"X"},{"d":5710,"v":-0.615,"s":"X"},{"d":5716,"v":0.02,"s":"X"},{"d":5747,"v":0.03,"s":"X"},{"d":5770,"v":0.12,"s":"X"},{"d":5776,"v":-0.377,"s":"X"},{"d":5782,"v":0.02,"s":"X"},{"d":5809,"v":0.03,"s":"X"},{"d":5832,"v":0.12,"s":"X"},{"d":5838,"v":-0.40,"s":"X"},{"d":5844,"v":0.02,"s":"X"},
{"d":5872,"v":0.03,"s":"X"},{"d":5895,"v":0.12,"s":"X"},{"d":5901,"v":-0.295,"s":"X"},{"d":5907,"v":0.02,"s":"X"},{"d":5921,"v":0.03,"s":"X"}
],
"p3": [
{"d":0,"v":0.028,"s":"T"},{"d":4,"v":-0.005,"s":"T"},{"d":17,"v":0.005,"s":"T"},{"d":34,"v":-0.008,"s":"T"},{"d":50,"v":0.0,"s":"T"},{"d":70,"v":-0.05,"s":"T"},{"d":73,"v":-0.01,"s":"T"},{"d":76,"v":-0.02,"s":"T"},{"d":92,"v":0.0,"s":"T"},{"d":109,"v":-0.008,"s":"T"},
{"d":126,"v":0.005,"s":"T"},{"d":132,"v":0.028,"s":"T"},{"d":139,"v":0.0,"s":"T"},{"d":160,"v":-0.008,"s":"T"},{"d":177,"v":0.003,"s":"T"},{"d":196,"v":0.0,"s":"T"},{"d":210,"v":-0.01,"s":"T"},{"d":235,"v":0.005,"s":"T"},{"d":261,"v":0.003,"s":"T"},{"d":286,"v":-0.005,"s":"T"},
{"d":303,"v":0.005,"s":"T"},{"d":328,"v":0.012,"s":"T"},{"d":345,"v":-0.005,"s":"T"},{"d":362,"v":-0.012,"s":"T"},{"d":387,"v":-0.002,"s":"T"},{"d":412,"v":-0.01,"s":"T"},{"d":429,"v":-0.02,"s":"T"},{"d":448,"v":-0.039,"s":"T"},{"d":463,"v":-0.025,"s":"T"},{"d":488,"v":-0.02,"s":"T"},
{"d":510,"v":-0.039,"s":"T"},{"d":530,"v":-0.025,"s":"T"},{"d":555,"v":-0.015,"s":"T"},{"d":574,"v":-0.012,"s":"T"},{"d":589,"v":-0.03,"s":"T"},{"d":614,"v":-0.035,"s":"T"},{"d":637,"v":-0.047,"s":"T"},{"d":656,"v":-0.03,"s":"T"},{"d":673,"v":-0.04,"s":"T"},{"d":695,"v":-0.03,"s":"T"},
{"d":706,"v":-0.045,"s":"T"},{"d":723,"v":-0.02,"s":"T"},{"d":734,"v":0.09,"s":"T"},{"d":737,"v":-0.128,"s":"T"},{"d":740,"v":-0.03,"s":"T"},{"d":757,"v":-0.05,"s":"T"},{"d":774,"v":-0.01,"s":"T"},{"d":791,"v":0.02,"s":"T"},{"d":799,"v":-0.03,"s":"T"},{"d":822,"v":-0.012,"s":"T"},
{"d":833,"v":0.025,"s":"T"},{"d":849,"v":-0.02,"s":"T"},{"d":866,"v":0.02,"s":"T"},{"d":883,"v":-0.005,"s":"T"},{"d":900,"v":0.02,"s":"T"},{"d":917,"v":-0.03,"s":"T"},{"d":925,"v":-0.18,"s":"T"},{"d":929,"v":-0.1,"s":"T"},{"d":934,"v":-0.01,"s":"T"},{"d":944,"v":0.003,"s":"T"},
{"d":959,"v":0.02,"s":"T"},{"d":976,"v":-0.01,"s":"T"},{"d":984,"v":0.025,"s":"T"},{"d":1001,"v":-0.005,"s":"T"},{"d":1018,"v":0.01,"s":"T"},{"d":1034,"v":-0.005,"s":"T"},{"d":1051,"v":0.015,"s":"T"},{"d":1074,"v":0.002,"s":"T"},{"d":1093,"v":0.012,"s":"T"},{"d":1110,"v":-0.005,"s":"T"},
{"d":1135,"v":0.02,"s":"T"},{"d":1152,"v":0.0,"s":"T"},{"d":1177,"v":0.01,"s":"T"},{"d":1197,"v":-0.005,"s":"T"},{"d":1219,"v":0.005,"s":"T"},{"d":1236,"v":-0.01,"s":"T"},{"d":1262,"v":-0.015,"s":"T"},{"d":1278,"v":0.0,"s":"T"},{"d":1303,"v":0.005,"s":"T"},{"d":1323,"v":0.028,"s":"T"},
{"d":1337,"v":0.0,"s":"T"},{"d":1362,"v":0.008,"s":"T"},{"d":1382,"v":0.017,"s":"T"},{"d":1396,"v":0.0,"s":"T"},{"d":1421,"v":0.01,"s":"T"},{"d":1444,"v":0.01,"s":"T"},{"d":1463,"v":-0.005,"s":"T"},{"d":1489,"v":0.008,"s":"T"},{"d":1514,"v":0.03,"s":"T"},{"d":1531,"v":0.005,"s":"T"},
{"d":1556,"v":0.01,"s":"T"},{"d":1577,"v":0.018,"s":"T"},{"d":1598,"v":-0.005,"s":"T"},{"d":1615,"v":0.005,"s":"T"},{"d":1640,"v":0.0,"s":"T"},{"d":1657,"v":0.01,"s":"T"},{"d":1682,"v":0.005,"s":"T"},{"d":1701,"v":0.018,"s":"T"},{"d":1724,"v":0.0,"s":"T"},{"d":1760,"v":0.013,"s":"T"},
{"d":1783,"v":0.0,"s":"T"},{"d":1808,"v":-0.005,"s":"T"},{"d":1831,"v":-0.007,"s":"T"},{"d":1850,"v":0.005,"s":"T"},{"d":1875,"v":0.01,"s":"T"},{"d":1892,"v":0.022,"s":"T"},{"d":1909,"v":0.005,"s":"T"},{"d":1934,"v":0.01,"s":"T"},{"d":1954,"v":0.01,"s":"T"},{"d":1976,"v":-0.01,"s":"T"},
{"d":1993,"v":-0.02,"s":"T"},{"d":2016,"v":-0.035,"s":"T"},{"d":2035,"v":-0.01,"s":"T"},{"d":2060,"v":-0.005,"s":"T"},{"d":2077,"v":-0.007,"s":"T"},{"d":2102,"v":-0.012,"s":"T"},{"d":2119,"v":-0.01,"s":"T"},{"d":2139,"v":-0.017,"s":"T"},{"d":2153,"v":-0.03,"s":"T"},{"d":2161,"v":-0.08,"s":"T"},
{"d":2178,"v":-0.10,"s":"T"},{"d":2187,"v":-0.13,"s":"T"},{"d":2195,"v":-0.09,"s":"T"},{"d":2201,"v":-0.078,"s":"T"},{"d":2208,"v":-0.11,"s":"T"},{"d":2220,"v":-0.09,"s":"T"},{"d":2229,"v":-0.13,"s":"T"},{"d":2241,"v":-0.09,"s":"T"},{"d":2262,"v":-0.073,"s":"T"},{"d":2279,"v":-0.08,"s":"T"},
{"d":2296,"v":-0.065,"s":"T"},{"d":2313,"v":-0.055,"s":"T"},{"d":2330,"v":-0.05,"s":"T"},{"d":2346,"v":-0.035,"s":"T"},{"d":2363,"v":-0.02,"s":"T"},{"d":2391,"v":-0.01,"s":"T"},{"d":2405,"v":-0.005,"s":"T"},{"d":2422,"v":-0.01,"s":"T"},{"d":2447,"v":-0.002,"s":"T"},{"d":2464,"v":-0.008,"s":"T"},
{"d":2489,"v":-0.005,"s":"T"},{"d":2515,"v":-0.018,"s":"T"},{"d":2531,"v":-0.008,"s":"T"},{"d":2556,"v":-0.005,"s":"T"},{"d":2579,"v":-0.002,"s":"T"},{"d":2590,"v":-0.03,"s":"T"},{"d":2599,"v":-0.06,"s":"T"},{"d":2607,"v":-0.02,"s":"T"},{"d":2624,"v":-0.04,"s":"T"},{"d":2638,"v":0.002,"s":"T"},
{"d":2649,"v":-0.01,"s":"T"},{"d":2674,"v":0.005,"s":"T"},{"d":2700,"v":0.037,"s":"T"},{"d":2716,"v":-0.005,"s":"T"},{"d":2733,"v":0.01,"s":"T"},{"d":2761,"v":0.002,"s":"T"},{"d":2775,"v":-0.03,"s":"T"},{"d":2792,"v":0.01,"s":"T"},{"d":2809,"v":-0.02,"s":"T"},{"d":2826,"v":0.018,"s":"T"},
{"d":2843,"v":-0.01,"s":"T"},{"d":2859,"v":-0.035,"s":"T"},{"d":2876,"v":0.005,"s":"T"},{"d":2887,"v":0.018,"s":"T"},{"d":2901,"v":-0.045,"s":"T"},{"d":2914,"v":0.005,"s":"T"},{"d":2927,"v":-0.01,"s":"T"},{"d":2952,"v":0.0,"s":"T"},{"d":2969,"v":0.015,"s":"T"},{"d":2986,"v":0.025,"s":"T"},
{"d":3002,"v":0.01,"s":"T"},{"d":3019,"v":-0.002,"s":"T"},{"d":3036,"v":0.01,"s":"T"},{"d":3053,"v":0.02,"s":"T"},{"d":3078,"v":0.012,"s":"T"},{"d":3095,"v":0.005,"s":"T"},{"d":3120,"v":0.015,"s":"T"},{"d":3143,"v":0.008,"s":"T"},{"d":3162,"v":0.015,"s":"T"},{"d":3179,"v":0.01,"s":"T"},
{"d":3204,"v":0.02,"s":"T"},{"d":3221,"v":0.015,"s":"T"},{"d":3246,"v":0.022,"s":"T"},{"d":3266,"v":0.028,"s":"T"},{"d":3280,"v":0.02,"s":"T"},{"d":3305,"v":0.025,"s":"T"},{"d":3328,"v":0.03,"s":"T"},{"d":3347,"v":0.02,"s":"T"},{"d":3364,"v":0.025,"s":"T"},{"d":3389,"v":0.022,"s":"T"},
{"d":3406,"v":0.028,"s":"T"},{"d":3431,"v":0.02,"s":"T"},{"d":3454,"v":0.03,"s":"T"},{"d":3473,"v":0.02,"s":"T"},{"d":3490,"v":0.025,"s":"T"},{"d":3518,"v":0.02,"s":"T"},{"d":3540,"v":0.015,"s":"T"},{"d":3557,"v":0.022,"s":"T"},{"d":3580,"v":0.012,"s":"T"},{"d":3599,"v":0.02,"s":"T"},
{"d":3616,"v":0.015,"s":"T"},{"d":3642,"v":0.027,"s":"T"},{"d":3658,"v":0.015,"s":"T"},{"d":3684,"v":0.018,"s":"T"},{"d":3703,"v":0.01,"s":"T"},{"d":3726,"v":0.015,"s":"T"},{"d":3742,"v":0.01,"s":"T"},{"d":3770,"v":0.008,"s":"T"},{"d":3793,"v":0.012,"s":"T"},{"d":3809,"v":0.008,"s":"T"},
{"d":3831,"v":0.012,"s":"T"},{"d":3852,"v":0.005,"s":"T"},{"d":3868,"v":0.01,"s":"T"},{"d":3888,"v":0.024,"s":"T"},{"d":3902,"v":0.0,"s":"T"},{"d":3911,"v":-0.045,"s":"T"},{"d":3923,"v":-0.02,"s":"T"},{"d":3936,"v":-0.013,"s":"T"},{"d":3954,"v":-0.004,"s":"T"},{"d":3970,"v":-0.005,"s":"T"},
{"d":3995,"v":0.005,"s":"T"},{"d":4017,"v":0.008,"s":"T"},{"d":4037,"v":0.0,"s":"T"},{"d":4054,"v":0.005,"s":"T"},{"d":4079,"v":0.0,"s":"T"},{"d":4096,"v":0.008,"s":"T"},{"d":4112,"v":0.0,"s":"T"},{"d":4140,"v":-0.002,"s":"T"},{"d":4163,"v":0.005,"s":"T"},{"d":4180,"v":0.01,"s":"T"},
{"d":4203,"v":0.01,"s":"T"},{"d":4222,"v":0.0,"s":"T"},{"d":4247,"v":0.005,"s":"T"},{"d":4268,"v":-0.005,"s":"T"},{"d":4289,"v":0.005,"s":"T"},{"d":4314,"v":0.008,"s":"T"},{"d":4333,"v":0.002,"s":"T"},{"d":4356,"v":0.01,"s":"T"},{"d":4381,"v":0.01,"s":"T"},{"d":4398,"v":0.0,"s":"T"},
{"d":4415,"v":0.015,"s":"T"},{"d":4440,"v":0.018,"s":"T"},{"d":4459,"v":0.028,"s":"T"},{"d":4474,"v":0.015,"s":"T"},{"d":4499,"v":0.02,"s":"T"},{"d":4522,"v":0.022,"s":"T"},{"d":4541,"v":0.01,"s":"T"},{"d":4558,"v":0.008,"s":"T"},{"d":4581,"v":0.0,"s":"T"},{"d":4600,"v":0.005,"s":"T"},
{"d":4617,"v":-0.005,"s":"T"},{"d":4642,"v":0.0,"s":"T"},{"d":4659,"v":0.005,"s":"T"},{"d":4676,"v":-0.01,"s":"T"},{"d":4693,"v":-0.005,"s":"T"},{"d":4711,"v":-0.005,"s":"T"},{"d":4726,"v":0.005,"s":"T"},{"d":4743,"v":-0.01,"s":"T"},{"d":4756,"v":0.0,"s":"T"},{"d":4774,"v":-0.002,"s":"T"},
{"d":4794,"v":0.005,"s":"T"},{"d":4811,"v":-0.005,"s":"T"},{"d":4836,"v":0.0,"s":"T"},{"d":4853,"v":-0.01,"s":"T"},{"d":4869,"v":0.0,"s":"T"},{"d":4897,"v":-0.005,"s":"T"},{"d":4911,"v":-0.01,"s":"T"},{"d":4928,"v":-0.015,"s":"T"},{"d":4941,"v":-0.005,"s":"T"},{"d":4960,"v":0.002,"s":"T"},
{"d":4979,"v":-0.005,"s":"T"},{"d":4995,"v":0.0,"s":"T"},{"d":5021,"v":0.002,"s":"T"},{"d":5034,"v":-0.005,"s":"T"},{"d":5046,"v":-0.1,"s":"T"},{"d":5055,"v":-0.165,"s":"T"},{"d":5063,"v":-0.07,"s":"T"},{"d":5072,"v":-0.04,"s":"T"},{"d":5082,"v":-0.005,"s":"T"},{"d":5097,"v":-0.02,"s":"T"},
{"d":5114,"v":0.0,"s":"T"},{"d":5130,"v":0.005,"s":"T"},{"d":5144,"v":0.015,"s":"T"},{"d":5155,"v":0.02,"s":"T"},{"d":5161,"v":0.065,"s":"T"},{"d":5168,"v":0.02,"s":"T"},{"d":5180,"v":0.01,"s":"T"},{"d":5193,"v":0.02,"s":"T"},{"d":5203,"v":0.025,"s":"T"},{"d":5220,"v":0.015,"s":"T"},
{"d":5240,"v":0.022,"s":"T"},{"d":5253,"v":0.025,"s":"T"},
{"d":5253,"v":0.025,"s":"V"},{"d":5266,"v":0.058,"s":"V"},{"d":5277,"v":0.03,"s":"V"},{"d":5298,"v":0.02,"s":"V"},{"d":5329,"v":0.028,"s":"V"},{"d":5348,"v":0.018,"s":"V"},{"d":5365,"v":0.022,"s":"V"},{"d":5391,"v":0.012,"s":"V"},{"d":5407,"v":0.02,"s":"V"},{"d":5433,"v":0.015,"s":"V"},{"d":5458,"v":0.012,"s":"V"},{"d":5475,"v":0.02,"s":"V"},{"d":5494,"v":0.01,"s":"V"},
{"d":5494,"v":0.01,"s":"X"},{"d":5508,"v":-0.015,"s":"X"},{"d":5521,"v":-0.012,"s":"X"},{"d":5534,"v":-0.02,"s":"X"},{"d":5551,"v":-0.015,"s":"X"},{"d":5567,"v":-0.018,"s":"X"},{"d":5584,"v":-0.015,"s":"X"},{"d":5601,"v":-0.02,"s":"X"},{"d":5618,"v":-0.018,"s":"X"},{"d":5635,"v":-0.025,"s":"X"},{"d":5649,"v":-0.032,"s":"X"},{"d":5664,"v":-0.02,"s":"X"},{"d":5677,"v":-0.025,"s":"X"},{"d":5693,"v":-0.015,"s":"X"},{"d":5710,"v":-0.01,"s":"X"},
{"d":5727,"v":-0.02,"s":"X"},{"d":5744,"v":-0.015,"s":"X"},{"d":5761,"v":-0.02,"s":"X"},{"d":5776,"v":0.01,"s":"X"},{"d":5786,"v":-0.015,"s":"X"},{"d":5803,"v":-0.02,"s":"X"},{"d":5820,"v":-0.015,"s":"X"},{"d":5838,"v":-0.02,"s":"X"},{"d":5853,"v":-0.015,"s":"X"},{"d":5870,"v":-0.02,"s":"X"},{"d":5887,"v":-0.01,"s":"X"},{"d":5901,"v":-0.005,"s":"X"},{"d":5912,"v":-0.015,"s":"X"},{"d":5921,"v":-0.012,"s":"X"}
]
},
"title": {"text": "β₄", "orient": "bottom", "anchor": "middle", "offset": 7, "dx": 25},
"spacing": 9,
"resolve": {"scale": {"color": "independent"}, "legend": {"color": "independent"}},
"vconcat": [
{
 "width": 774, "height": 92,
 "title": {"text": "β₁"},
 "layer": [
  {"data": {"name": "p1"}, "mark": {"type": "line", "strokeWidth": 1.1, "clip": true},
   "encoding": {
    "x": {"field": "d", "type": "quantitative", "scale": {"domain": [-294, 6215], "nice": false, "zero": false}, "axis": {"values": [0,1000,2000,3000,4000,5000,6000], "labels": false, "title": null}},
    "y": {"field": "v", "type": "quantitative", "scale": {"domain": [0.163, 1.048], "nice": false, "zero": false}, "axis": {"values": [0.25,0.5,0.75,1.0], "format": ".2f", "title": null, "labelOverlap": false, "labelBound": false}},
    "color": {"field": "s", "type": "nominal", "scale": {"domain": ["T","V","X","E"], "range": ["#00007f","thistle","deepskyblue","red"]},
     "legend": {"title": null, "orient": "none", "legendX": 577, "legendY": 3, "columns": 2, "columnPadding": 20, "rowPadding": 1.3, "clipHeight": 10, "padding": 4, "cornerRadius": 3,
      "fillColor": "rgba(255,255,255,0.8)", "strokeColor": "#cccccc",
      "labelExpr": "datum.value === 'T' ? 'Training set' : datum.value === 'X' ? 'Test set' : datum.value === 'V' ? 'Validation set' : 'Earnings date'",
      "labelFont": "DejaVu Sans", "labelFontSize": 8.3, "labelColor": "#222222", "labelOffset": 3,
      "symbolType": "stroke", "symbolSize": 400, "symbolStrokeWidth": 1.2,
      "encode": {"symbols": {"update": {"shape": {"signal": "datum.value === 'E' ? 'circle' : 'stroke'"}, "size": {"signal": "datum.value === 'E' ? 22 : 400"}, "fill": {"signal": "datum.value === 'E' ? 'red' : 'transparent'"}}}}}}
   }},
  {"data": {"name": "earn"}, "mark": {"type": "circle", "color": "red", "size": 28, "opacity": 1, "clip": true},
   "encoding": {"x": {"field": "d", "type": "quantitative", "axis": {"values": [0,1000,2000,3000,4000,5000,6000], "labels": false, "title": null}}, "y": {"field": "b1", "type": "quantitative", "axis": {"values": [0.25,0.5,0.75,1.0], "format": ".2f", "title": null, "labelOverlap": false, "labelBound": false}}}}
 ]
},
{
 "width": 774, "height": 93,
 "title": {"text": "β₂"},
 "layer": [
  {"data": {"name": "p2"}, "mark": {"type": "line", "strokeWidth": 1.1, "clip": true},
   "encoding": {
    "x": {"field": "d", "type": "quantitative", "scale": {"domain": [-294, 6215], "nice": false, "zero": false}, "axis": {"values": [0,1000,2000,3000,4000,5000,6000], "labels": false, "title": null}},
    "y": {"field": "v", "type": "quantitative", "scale": {"domain": [-0.834, 1.08], "nice": false, "zero": false}, "axis": {"values": [-0.5,0,0.5,1.0], "format": ".1f", "title": null, "labelOverlap": false, "labelBound": false}},
    "color": {"field": "s", "type": "nominal", "scale": {"domain": ["T","V","X","E"], "range": ["#00007f","thistle","deepskyblue","red"]}, "legend": null}
   }},
  {"data": {"name": "earn"}, "mark": {"type": "circle", "color": "red", "size": 28, "opacity": 1, "clip": true},
   "encoding": {"x": {"field": "d", "type": "quantitative", "axis": {"values": [0,1000,2000,3000,4000,5000,6000], "labels": false, "title": null}}, "y": {"field": "b2", "type": "quantitative", "axis": {"values": [-0.5,0,0.5,1.0], "format": ".1f", "title": null, "labelOverlap": false, "labelBound": false}}}}
 ]
},
{
 "width": 774, "height": 94,
 "title": {"text": "β₃", "offset": -2},
 "layer": [
  {"data": {"name": "p3"}, "mark": {"type": "line", "strokeWidth": 1.1, "clip": true},
   "encoding": {
    "x": {"field": "d", "type": "quantitative", "scale": {"domain": [-294, 6215], "nice": false, "zero": false}, "axis": {"values": [0,1000,2000,3000,4000,5000,6000], "labels": false, "title": null}},
    "y": {"field": "v", "type": "quantitative", "scale": {"domain": [-0.178, 0.102], "nice": false, "zero": false}, "axis": {"values": [-0.1,0,0.1], "format": ".1f", "title": null, "labelOverlap": false, "labelBound": false}},
    "color": {"field": "s", "type": "nominal", "scale": {"domain": ["T","V","X","E"], "range": ["#00007f","thistle","deepskyblue","red"]}, "legend": null}
   }},
  {"data": {"name": "earn"}, "mark": {"type": "circle", "color": "red", "size": 28, "opacity": 1, "clip": true},
   "encoding": {"x": {"field": "d", "type": "quantitative", "axis": {"values": [0,1000,2000,3000,4000,5000,6000], "labels": false, "title": null}}, "y": {"field": "b3", "type": "quantitative", "axis": {"values": [-0.1,0,0.1], "format": ".1f", "title": null, "labelOverlap": false, "labelBound": false}}}}
 ]
}
]
}
